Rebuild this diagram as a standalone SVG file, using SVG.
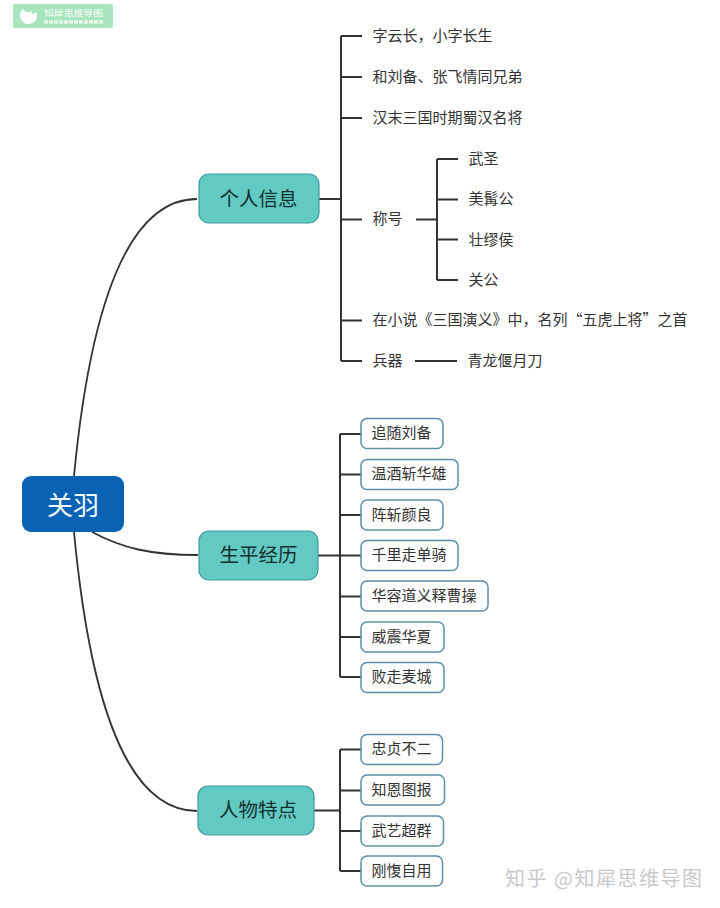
<svg xmlns="http://www.w3.org/2000/svg" width="720" height="908" viewBox="0 0 720 908">
<style>
text{font-family:"Noto Sans CJK SC","Noto Sans",sans-serif;dominant-baseline:central}
.leaf{font-size:15px;fill:#333}
.box{fill:#fff;stroke:#5b8fa8;stroke-width:1.5}
.topic{fill:#62c9c3;stroke:#3f9aa0;stroke-width:1.2}
.tt{font-size:19.5px;fill:#12302f;text-anchor:middle}
.l{fill:none;stroke:#333;stroke-width:2}
.c{fill:none;stroke:#333;stroke-width:1.8}
</style>
<rect width="720" height="908" fill="#fff"/>
<g id="logo">
<rect x="13" y="4" width="100" height="24" rx="2" fill="#a8e4bd"/>
<path d="M23 9 C26 13 29 13 31 11 L32 14 L36 12 C39 17 36 24 28 24 C21 24 17 14 23 9Z" fill="#fff"/>
<text x="44" y="11.500" font-size="8.500" fill="#fff" textLength="59" lengthAdjust="spacingAndGlyphs">知犀思维导图</text>
<line x1="44" y1="22" x2="103" y2="22" stroke="#e4f7ea" stroke-width="3.500" stroke-dasharray="4 1"/>
</g>
<g id="connectors">
<path class="c" d="M74 476 C88 330 120 199 197 199"/>
<path class="c" d="M74 532 C88 680 120 811 197 811"/>
<path class="c" d="M92 532 C122 548 150 555 198 555"/>
<path class="l" d="M319 199H341M341 36V361M341 36H362M341 77H362M341 118H362M341 219.500H362M341 320.500H362M341 361H362"/>
<path class="l" d="M416 219.500H437M437 159V280M437 159H458M437 199.500H458M437 239.500H458M437 280H458M415 361H457"/>
<path class="l" d="M318 555.500H340M340 434V677M340 434H361M340 474.500H361M340 515H361M340 555.500H361M340 596.500H361M340 637H361M340 677H361"/>
<path class="l" d="M314 810.500H340M340 749.500V871M340 749.500H361M340 790.500H361M340 831H361M340 871H361"/>
</g>
<g id="root"><rect x="22" y="476" width="102" height="56" rx="9" fill="#0a62b4"/><text x="73" y="503" font-size="26" fill="#eef7ff" text-anchor="middle">关羽</text></g>
<g id="t1"><rect class="topic" x="199" y="174" width="120" height="49" rx="10"/><text class="tt" x="258.500" y="197.500">个人信息</text></g>
<g id="t2"><rect class="topic" x="199" y="531" width="119" height="49" rx="10"/><text class="tt" x="258.500" y="553.500">生平经历</text></g>
<g id="t3"><rect class="topic" x="198" y="786" width="116" height="49" rx="10"/><text class="tt" x="258" y="808.500">人物特点</text></g>
<g id="n1"><text class="leaf" x="372.500" y="34.700">字云长，小字长生</text></g>
<g id="n2"><text class="leaf" x="372.500" y="75">和刘备、张飞情同兄弟</text></g>
<g id="n3"><text class="leaf" x="372.500" y="116">汉末三国时期蜀汉名将</text></g>
<g id="n4"><text class="leaf" x="372.500" y="217">称号</text></g>
<g id="n5"><text class="leaf" x="468.500" y="157">武圣</text></g>
<g id="n6"><text class="leaf" x="468.500" y="197">美髯公</text></g>
<g id="n7"><text class="leaf" x="468.500" y="238">壮缪侯</text></g>
<g id="n8"><text class="leaf" x="468.500" y="278">关公</text></g>
<g id="n9"><text class="leaf" x="372.500" y="318">在小说《三国演义》中，名列“五虎上将”之首</text></g>
<g id="n10"><text class="leaf" x="372.500" y="359">兵器</text></g>
<g id="n11"><text class="leaf" x="467.500" y="359">青龙偃月刀</text></g>
<g id="b1"><rect class="box" x="361" y="418.500" width="82" height="30" rx="6"/><text class="leaf" x="371.500" y="431.500">追随刘备</text></g>
<g id="b2"><rect class="box" x="361" y="459.500" width="97" height="30" rx="6"/><text class="leaf" x="371.500" y="472.500">温酒斩华雄</text></g>
<g id="b3"><rect class="box" x="361" y="500" width="82" height="30" rx="6"/><text class="leaf" x="371.500" y="513">阵斩颜良</text></g>
<g id="b4"><rect class="box" x="361" y="540.500" width="97" height="30" rx="6"/><text class="leaf" x="371.500" y="553.500">千里走单骑</text></g>
<g id="b5"><rect class="box" x="361" y="581" width="127" height="30" rx="6"/><text class="leaf" x="371.500" y="594">华容道义释曹操</text></g>
<g id="b6"><rect class="box" x="361" y="622" width="83" height="30" rx="6"/><text class="leaf" x="371.500" y="635">威震华夏</text></g>
<g id="b7"><rect class="box" x="361" y="662.500" width="83" height="30" rx="6"/><text class="leaf" x="371.500" y="675">败走麦城</text></g>
<g id="b8"><rect class="box" x="361" y="734.500" width="81.500" height="30" rx="6"/><text class="leaf" x="371.500" y="747.500">忠贞不二</text></g>
<g id="b9"><rect class="box" x="361" y="775" width="83.500" height="30" rx="6"/><text class="leaf" x="371.500" y="788.500">知恩图报</text></g>
<g id="b10"><rect class="box" x="361" y="816" width="82.500" height="30" rx="6"/><text class="leaf" x="371.500" y="829">武艺超群</text></g>
<g id="b11"><rect class="box" x="361" y="856" width="81.500" height="30" rx="6"/><text class="leaf" x="371.500" y="869.500">刚愎自用</text></g>
<g id="watermark"><text x="505" y="877" font-size="20" fill="#c9c9c9" textLength="197" lengthAdjust="spacing">知乎 @知犀思维导图</text></g>
</svg>
